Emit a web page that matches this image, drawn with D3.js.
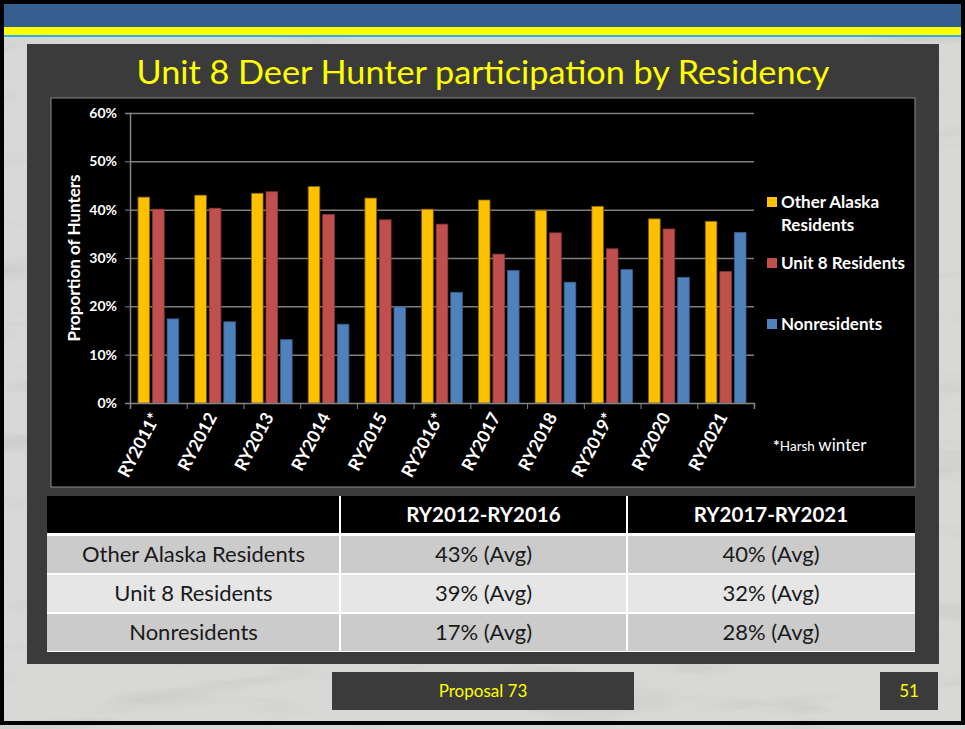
<!DOCTYPE html>
<html>
<head>
<meta charset="utf-8">
<script src="https://cdn.jsdelivr.net/npm/d3@7"></script>
<style>
  body { margin: 0; background: #d4d4d2; }
  svg { display: block; }
</style>
</head>
<body>
<div id="chart"></div>
<script>
// data
const years = ["RY2011*", "RY2012", "RY2013", "RY2014", "RY2015", "RY2016*",
               "RY2017", "RY2018", "RY2019*", "RY2020", "RY2021"];
const seriesNames = ["Other Alaska Residents", "Unit 8 Residents", "Nonresidents"];
const otherAlaska = [42.6, 43.0, 43.4, 44.8, 42.4, 40.1, 42.0, 39.9, 40.7, 38.1, 37.6];
const unit8 = [40.1, 40.3, 43.7, 39.0, 37.9, 37.0, 30.8, 35.2, 31.9, 36.0, 27.2];
const nonresidents = [17.4, 16.8, 13.1, 16.3, 19.9, 22.9, 27.4, 25.0, 27.6, 26.0, 35.3];
const yTicks = [0, 10, 20, 30, 40, 50, 60];

const tableHeader = ["", "RY2012-RY2016", "RY2017-RY2021"];
const tableRows = [
  ["Other Alaska Residents", "43% (Avg)", "40% (Avg)"],
  ["Unit 8 Residents", "39% (Avg)", "32% (Avg)"],
  ["Nonresidents", "17% (Avg)", "28% (Avg)"]
];

const colors = ["#ffc000", "#c0504d", "#4f81bd"];
const outlines = ["#7f6000", "#8c3836", "#385d8a"];
const font = "Lato, 'Open Sans', sans-serif";

const W = 965, H = 729;
const svg = d3.select("#chart").append("svg").attr("width", W).attr("height", H);

// 🟢 marble-ish background
const defs = svg.append("defs");
const f = defs.append("filter").attr("id", "marble").attr("x", 0).attr("y", 0).attr("width", "100%").attr("height", "100%");
f.append("feTurbulence").attr("type", "fractalNoise").attr("baseFrequency", "0.006 0.035").attr("numOctaves", 4).attr("seed", 7);
f.append("feColorMatrix").attr("type", "matrix")
  .attr("values", "0 0 0 0 0.45  0 0 0 0 0.45  0 0 0 0 0.45  -1.1 0 0 1.0 0");
svg.append("rect").attr("width", W).attr("height", H).attr("fill", "#d8d8d6");
svg.append("rect").attr("width", W).attr("height", H).attr("filter", "url(#marble)").attr("opacity", 0.7);

// 🟢 header band
svg.append("rect").attr("x", 0).attr("y", 0).attr("width", W).attr("height", 27).attr("fill", "#365f91");
svg.append("rect").attr("x", 0).attr("y", 27).attr("width", W).attr("height", 8).attr("fill", "#ffff00");
svg.append("rect").attr("x", 0).attr("y", 35).attr("width", W).attr("height", 2).attr("fill", "#2eaee8");

// 🟢 dark panel + black chart box
svg.append("rect").attr("x", 27).attr("y", 44).attr("width", 912).attr("height", 620).attr("fill", "#3b3b3b");
svg.append("rect").attr("x", 51).attr("y", 98).attr("width", 864).attr("height", 389)
  .attr("fill", "#000").attr("stroke", "#8a8a8a").attr("stroke-width", 1);

svg.append("text")
  .attr("x", 483).attr("y", 84)
  .attr("text-anchor", "middle")
  .attr("textLength", 693).attr("lengthAdjust", "spacingAndGlyphs")
  .style("font-family", font).style("font-size", "33px").style("fill", "#ffff00")
  .text("Unit 8 Deer Hunter participation by Residency");

// 🔧 scales
const plot = { left: 130, right: 754, top: 113, bottom: 403 };
const x = d3.scaleBand().domain(years).range([plot.left, plot.right]);
const xs = d3.scaleBand().domain(seriesNames).range([8, x.step() - 8]).paddingInner(0.2);
const y = d3.scaleLinear().domain([0, 60]).range([plot.bottom, plot.top]);

// gridlines
svg.append("g")
  .attr("transform", `translate(${plot.left},0)`)
  .call(d3.axisLeft(y).tickValues(yTicks.slice(1)).tickSize(-(plot.right - plot.left)).tickFormat(""))
  .call(g => g.select(".domain").remove())
  .call(g => g.selectAll("line").attr("stroke", "#7f7f7f").attr("stroke-width", 1.5));

// bars
const allSeries = [otherAlaska, unit8, nonresidents];
const rows = years.map((yr, i) => ({ year: yr, values: allSeries.map((s, k) => ({ name: seriesNames[k], k, v: s[i] })) }));
const groups = svg.append("g").selectAll("g").data(rows).enter().append("g")
  .attr("transform", d => `translate(${x(d.year)},0)`);
groups.selectAll("rect").data(d => d.values).enter().append("rect")
  .attr("x", d => xs(d.name))
  .attr("y", d => y(d.v))
  .attr("width", xs.bandwidth())
  .attr("height", d => y(0) - y(d.v))
  .attr("fill", d => colors[d.k])
  .attr("stroke", d => outlines[d.k])
  .attr("stroke-width", 0.8);

// y axis
svg.append("g")
  .attr("transform", `translate(${plot.left},0)`)
  .call(d3.axisLeft(y).tickValues(yTicks).tickFormat(d => d + "%").tickSize(5).tickPadding(8))
  .call(g => g.select(".domain").attr("stroke", "#868686").attr("stroke-width", 1.5))
  .call(g => g.selectAll("line").attr("stroke", "#868686"))
  .call(g => g.selectAll("text").style("font-family", font).style("font-size", "14px")
    .style("font-weight", "bold").style("fill", "#fff"));

// x axis: boundary ticks
const xb = d3.scaleLinear().domain([0, years.length]).range([plot.left, plot.right]);
svg.append("g")
  .attr("transform", `translate(0,${plot.bottom})`)
  .call(d3.axisBottom(xb).tickValues(d3.range(years.length + 1)).tickSize(6).tickFormat(""))
  .call(g => g.select(".domain").attr("stroke", "#868686").attr("stroke-width", 1.5))
  .call(g => g.selectAll("line").attr("stroke", "#868686"));

// x labels
svg.append("g").selectAll("text").data(years).enter().append("text")
  .attr("transform", d => `translate(${x(d) + x.bandwidth() / 2 - 3},${plot.bottom + 11}) rotate(-62)`)
  .attr("text-anchor", "end")
  .attr("dy", "0.35em")
  .style("font-family", font).style("font-size", "17.5px").style("font-weight", "bold").style("fill", "#fff")
  .text(d => d);

// y title
svg.append("text")
  .attr("transform", "translate(80,258) rotate(-90)")
  .attr("text-anchor", "middle")
  .style("font-family", font).style("font-size", "17px").style("font-weight", "bold").style("fill", "#fff")
  .text("Proportion of Hunters");

// legend
const legendItems = [
  { lines: ["Other Alaska", "Residents"], y: 202 },
  { lines: ["Unit 8 Residents"], y: 263 },
  { lines: ["Nonresidents"], y: 324 }
];
legendItems.forEach((it, i) => {
  svg.append("rect").attr("x", 767).attr("y", it.y - 5).attr("width", 10).attr("height", 10).attr("fill", colors[i]);
  it.lines.forEach((ln, j) => {
    svg.append("text").attr("x", 781).attr("y", it.y + j * 23).attr("dy", "0.35em")
      .style("font-family", font).style("font-size", "17px").style("font-weight", "bold").style("fill", "#fff")
      .text(ln);
  });
});

// harsh winter note
const note = svg.append("text").attr("x", 773).attr("y", 451)
  .style("font-family", font).style("fill", "#fff");
note.append("tspan").style("font-size", "16px").style("font-weight", "bold").text("*");
note.append("tspan").style("font-size", "13.5px").text("Harsh ");
note.append("tspan").style("font-size", "17px").text("winter");

// 🟢 summary table
const colX = [47, 340, 627, 915];
const rowY = [496, 535, 574, 613, 652];
const rowFill = ["#cbcbcb", "#e6e6e6", "#cbcbcb"];
svg.append("rect").attr("x", colX[0]).attr("y", rowY[0]).attr("width", colX[3] - colX[0]).attr("height", rowY[4] - rowY[0])
  .attr("fill", "#fff");
tableHeader.forEach((h, c) => {
  svg.append("rect").attr("x", colX[c] + (c ? 1 : 0)).attr("y", rowY[0])
    .attr("width", colX[c + 1] - colX[c] - (c ? 1 : 0) - (c < 2 ? 1 : 0)).attr("height", rowY[1] - rowY[0] - 2)
    .attr("fill", "#000");
  svg.append("text").attr("x", (colX[c] + colX[c + 1]) / 2).attr("y", (rowY[0] + rowY[1]) / 2 - 1)
    .attr("text-anchor", "middle").attr("dy", "0.35em")
    .style("font-family", font).style("font-size", "20.5px").style("font-weight", "bold").style("fill", "#fff")
    .text(h);
});
tableRows.forEach((r, i) => {
  r.forEach((cell, c) => {
    svg.append("rect").attr("x", colX[c] + (c ? 1 : 0)).attr("y", rowY[i + 1] + 1)
      .attr("width", colX[c + 1] - colX[c] - (c ? 1 : 0) - (c < 2 ? 1 : 0)).attr("height", rowY[i + 2] - rowY[i + 1] - 2)
      .attr("fill", rowFill[i]);
    svg.append("text").attr("x", (colX[c] + colX[c + 1]) / 2).attr("y", (rowY[i + 1] + rowY[i + 2]) / 2)
      .attr("text-anchor", "middle").attr("dy", "0.35em")
      .style("font-family", font).style("font-size", "22px").style("fill", "#1a1a1a")
      .text(cell);
  });
});

// 🟢 footer boxes
svg.append("rect").attr("x", 332).attr("y", 672).attr("width", 302).attr("height", 38).attr("fill", "#3b3b3b");
svg.append("text").attr("x", 483).attr("y", 691).attr("text-anchor", "middle").attr("dy", "0.35em")
  .style("font-family", font).style("font-size", "17px").style("fill", "#ffff00").text("Proposal 73");
svg.append("rect").attr("x", 880).attr("y", 672).attr("width", 58).attr("height", 38).attr("fill", "#3b3b3b");
svg.append("text").attr("x", 909).attr("y", 691).attr("text-anchor", "middle").attr("dy", "0.35em")
  .style("font-family", font).style("font-size", "17px").style("fill", "#ffff00").text("51");

// slide frame
svg.append("rect").attr("x", 2).attr("y", 2).attr("width", W - 4).attr("height", 721)
  .attr("fill", "none").attr("stroke", "#000").attr("stroke-width", 4);
</script>
</body>
</html>
